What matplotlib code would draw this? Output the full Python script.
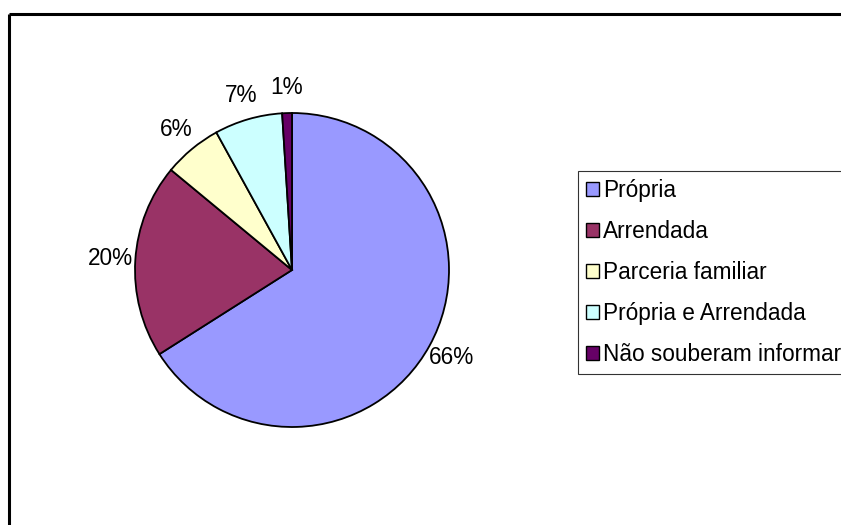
import matplotlib
matplotlib.use("Agg")
import matplotlib.pyplot as plt
from matplotlib.lines import Line2D
from matplotlib.patches import Patch

categories = ["Própria", "Arrendada", "Parceria familiar", "Própria e Arrendada", "Não souberam informar"]
values = [66, 20, 6, 7, 1]
labels = ["66%", "20%", "6%", "7%", "1%"]
colors = ["#9999FF", "#993366", "#FFFFCC", "#CCFFFF", "#660066"]

plt.rcParams['font.family'] = ['Liberation Sans', 'DejaVu Sans']

W, H = 841, 525
fig = plt.figure(figsize=(W / 100, H / 100), dpi=100)
fig.patch.set_facecolor("white")

cx, cy, r = 292, 270, 157
ax = fig.add_axes([(cx - r) / W, (H - cy - r) / H, 2 * r / W, 2 * r / H])
wedges, texts = ax.pie(values, colors=colors, startangle=90, counterclock=False,
                       labels=labels, labeldistance=1.16,
                       wedgeprops=dict(edgecolor="black", linewidth=1.3),
                       textprops=dict(fontsize=16.3, color="black"))
for t in texts:
    t.set_ha("center")
    t.set_va("center")
ax.set_xlim(-1, 1)
ax.set_ylim(-1, 1)
ax.axis("off")

# chart-area frame (top and left edges visible)
fig.add_artist(Line2D([9 / W, 1.0], [1 - 13.5 / H, 1 - 13.5 / H], color="black", lw=2.2, solid_capstyle="butt"))
fig.add_artist(Line2D([9 / W, 9 / W], [0, 1 - 13.5 / H], color="black", lw=2.2, solid_capstyle="butt"))

handles = [Patch(facecolor=c, edgecolor="black", linewidth=1.0) for c in colors]
leg = fig.legend(handles, categories, loc="upper left",
                 bbox_to_anchor=(578 / W, 1 - 171 / H), frameon=True,
                 fontsize=16.3, handlelength=0.58, handleheight=0.58, handletextpad=0.15,
                 labelspacing=0.79, borderpad=0.36, borderaxespad=0, fancybox=False)
leg.get_frame().set_edgecolor("black")
leg.get_frame().set_linewidth(0.8)

fig.savefig("out.png", dpi=100, facecolor="white")
